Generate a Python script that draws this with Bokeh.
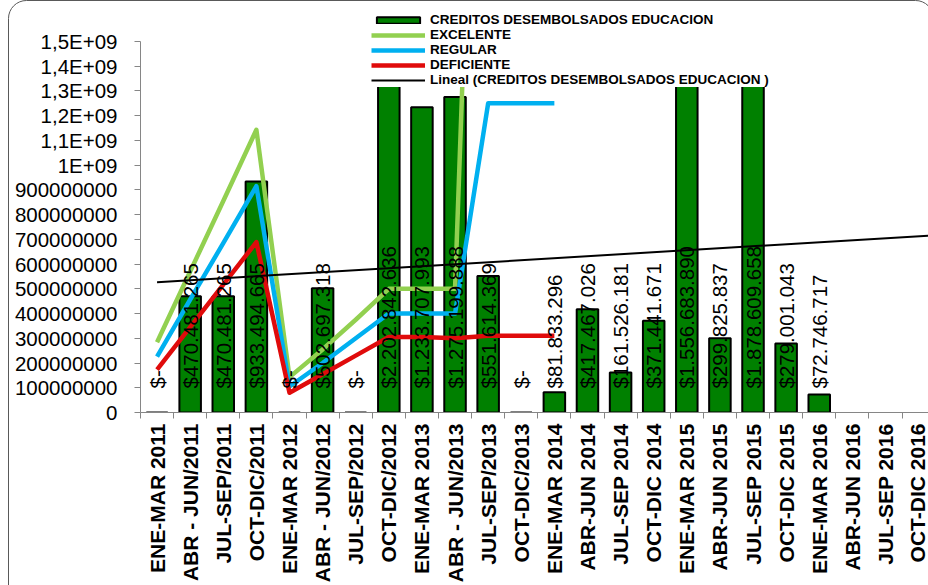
import numpy as np
from bokeh.plotting import figure
from bokeh.models import (ColumnDataSource, Range1d, FixedTicker,
                          Legend, LegendItem)
from bokeh.embed import file_html
from bokeh.resources import INLINE
from bokeh.core.properties import value

# ---------------- data ----------------
categories = ["ENE-MAR 2011", "ABR - JUN/2011", "JUL-SEP/2011", "OCT-DIC/2011",
              "ENE-MAR 2012", "ABR - JUN/2012", "JUL-SEP/2012", "OCT-DIC/2012",
              "ENE-MAR 2013", "ABR - JUN/2013", "JUL-SEP/2013", "OCT-DIC/2013",
              "ENE-MAR 2014", "ABR-JUN 2014", "JUL-SEP 2014", "OCT-DIC 2014",
              "ENE-MAR 2015", "ABR-JUN 2015", "JUL-SEP 2015", "OCT-DIC 2015",
              "ENE-MAR 2016", "ABR-JUN 2016", "JUL-SEP 2016", "OCT-DIC 2016"]

creditos = [0, 470481265, 470481265, 933494665, 0, 502697318, 0,
            2202842636, 1233707993, 1275199888, 551614369, 0,
            81833296, 417467026, 161526181, 371441671,
            1556683890, 299825837, 1878609658, 279001043, 72746717]

excelente = [2.84e8, 5.70e8, 8.55e8, 1.143e9, 1.43e8, 2.55e8, 3.75e8,
             5.0e8, 5.0e8, 5.0e8, 4.25e9]
regular = [2.26e8, 4.56e8, 6.85e8, 9.15e8, 1.05e8, 2.0e8, 3.0e8,
           4.0e8, 4.0e8, 4.0e8, 1.25e9, 1.25e9, 1.25e9]
deficiente = [1.73e8, 3.45e8, 5.17e8, 6.89e8, 0.80e8, 1.55e8, 2.30e8,
              3.05e8, 3.05e8, 3.0e8, 3.1e8, 3.1e8, 3.1e8]

y_ticks = [0, 100000000, 200000000, 300000000, 400000000, 500000000,
           600000000, 700000000, 800000000, 900000000, 1000000000,
           1100000000, 1200000000, 1300000000, 1400000000, 1500000000]
y_tick_labels = ["0", "100000000", "200000000", "300000000", "400000000",
                 "500000000", "600000000", "700000000", "800000000",
                 "900000000", "1E+09", "1,1E+09", "1,2E+09", "1,3E+09",
                 "1,4E+09", "1,5E+09"]

legend_labels = ["CREDITOS DESEMBOLSADOS EDUCACION", "EXCELENTE", "REGULAR",
                 "DEFICIENTE", "Lineal (CREDITOS DESEMBOLSADOS EDUCACION )"]

# ---------------- figure ----------------
FONT = "Liberation Sans"
GRAY = "#868686"
Y_AXIS_MAX = y_ticks[-1]
# frame runs from y=13 to y=412 px while the axis (0..1.5e9) spans 371 px
y_top = Y_AXIS_MAX * 399.0 / 371.0

chart_border = ("<svg xmlns='http://www.w3.org/2000/svg' width='928' height='585'>"
                "<rect x='8.5' y='0.5' width='925' height='640' rx='18' ry='18' "
                "fill='white' stroke='%23595959' stroke-width='1'/></svg>")

p = figure(width=928, height=585,
           x_range=Range1d(-0.5, 23.3), y_range=Range1d(0, y_top),
           output_backend="svg", toolbar_location=None,
           min_border_left=140, min_border_right=0,
           min_border_top=13, min_border_bottom=173)
p.styles = {"background-image": f'url("data:image/svg+xml;utf8,{chart_border}")',
            "background-repeat": "no-repeat"}
p.outline_line_color = None
p.xgrid.visible = False
p.ygrid.visible = False
p.background_fill_color = "white"
p.background_fill_alpha = 0.0
p.border_fill_alpha = 0.0

# y axis
ya = p.yaxis[0]
ya.ticker = FixedTicker(ticks=y_ticks, minor_ticks=[])
ya.major_label_overrides = {t: l for t, l in zip(y_ticks, y_tick_labels)}
ya.bounds = (0, Y_AXIS_MAX)
ya.major_label_text_font = FONT
ya.major_label_text_font_size = "20.5px"
ya.major_label_text_color = "black"
ya.axis_line_color = GRAY
ya.major_tick_line_color = GRAY
ya.major_tick_out = 6
ya.major_tick_in = 0
ya.minor_tick_line_color = None
ya.major_label_standoff = 17

# x axis: labels at category centres, ticks at category boundaries
cat_idx = list(range(len(categories)))
xa = p.xaxis[0]
xa.ticker = FixedTicker(ticks=cat_idx,
                        minor_ticks=[i - 0.5 for i in range(len(categories) + 1)])
xa.major_label_overrides = {i: c for i, c in zip(cat_idx, categories)}
xa.major_label_orientation = np.pi / 2
xa.major_label_text_font = FONT
xa.major_label_text_font_style = "bold"
xa.major_label_text_font_size = "21px"
xa.major_label_text_color = "black"
xa.major_label_standoff = 5
xa.axis_line_color = GRAY
xa.minor_tick_line_color = GRAY
xa.minor_tick_out = 6
xa.minor_tick_in = 0
xa.major_tick_line_color = None
xa.major_tick_out = 0
xa.major_tick_in = 0

# bars
idx = list(range(len(creditos)))
bar_labels = ["$-" if v == 0 else "$" + f"{v:,}".replace(",", ".") for v in creditos]
bar_src = ColumnDataSource(dict(idx=idx, top=creditos, label=bar_labels))
bars = p.vbar(x="idx", top="top", width=0.65, source=bar_src,
              fill_color="#008000", line_color="black", line_width=2)

# target lines
r_exc = p.line(list(range(len(excelente))), excelente, color="#92D050",
               line_width=4.5, line_join="round")
r_reg = p.line(list(range(len(regular))), regular, color="#00B0F0",
               line_width=4.5, line_join="round")
r_def = p.line(list(range(len(deficiente))), deficiente, color="#E00B0B",
               line_width=4.5, line_join="round")

# linear trend of the bars
slope, intercept = np.polyfit(np.array(idx, dtype=float),
                              np.array(creditos, dtype=float), 1)
tx = np.array([0.0, len(categories) - 0.5])
r_tr = p.line(tx, slope * tx + intercept, color="black", line_width=2)

# bar value labels
p.text(x="idx", y=0, text="label", source=bar_src, angle=np.pi / 2,
       text_align="left", text_baseline="middle", y_offset=-24,
       text_font=value(FONT), text_font_size="20.5px", text_color="black")

# legend
legend = Legend(items=[LegendItem(label=legend_labels[0], renderers=[bars]),
                       LegendItem(label=legend_labels[1], renderers=[r_exc]),
                       LegendItem(label=legend_labels[2], renderers=[r_reg]),
                       LegendItem(label=legend_labels[3], renderers=[r_def]),
                       LegendItem(label=legend_labels[4], renderers=[r_tr])],
                location=(231, 325), orientation="vertical",
                label_text_font=FONT, label_text_font_style="bold",
                label_text_font_size="13.5px", label_text_color="black",
                glyph_width=54, glyph_height=8, label_height=14,
                spacing=0, padding=2, margin=0, label_standoff=5,
                background_fill_color="white", background_fill_alpha=1.0,
                border_line_color=None)
p.add_layout(legend)

open("out.html", "w").write(file_html(p, INLINE))
